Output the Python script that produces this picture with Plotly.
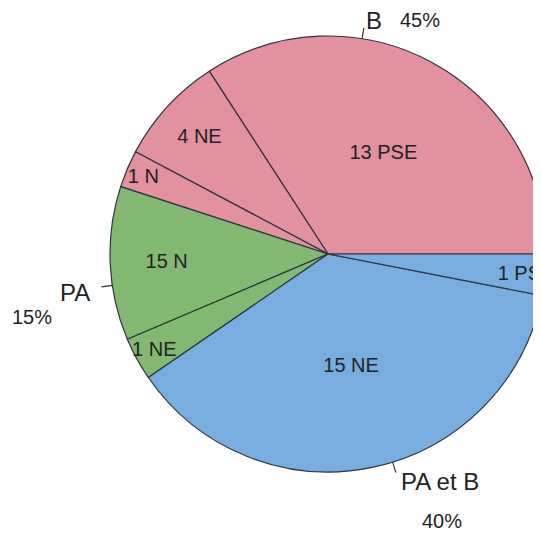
"""
Camembert : répartition des groupes B / PA / PA et B avec leurs sous-catégories.
"""
import math
import plotly.graph_objects as go

# Données
etiquettes = ["13 PSE", "4 NE", "1 N", "15 N", "1 NE", "15 NE", "1 PSE"]
parts = [123, 29, 10, 41, 11.5, 134.5, 11]  # taille estimée de chaque secteur (degrés)
groupes = ["B", "B", "B", "PA", "PA", "PA et B", "PA et B"]
noms_groupes = ["B", "PA", "PA et B"]
pourcentages = ["45%", "15%", "40%"]

couleurs_groupes = {"B": "#E3909F", "PA": "#82B872", "PA et B": "#7AADDF"}
couleur_trait = "#2B3440"
couleur_texte = "#222222"
police = "Liberation Sans, Arial, sans-serif"

W, H = 541, 533
cx, cy, r = 320.0, 246.0, 218.0  # centre et rayon du camembert (pixels de la figure)

total = sum(parts)

fig = go.Figure(data=[
    go.Pie(
        values=parts,
        text=etiquettes,
        textinfo="text",
        textposition="inside",
        insidetextorientation="horizontal",
        textfont=dict(size=20, color=couleur_texte, family=police),
        marker=dict(colors=[couleurs_groupes[g] for g in groupes],
                    line=dict(color=couleur_trait, width=1.2)),
        sort=False,
        direction="counterclockwise",
        # le premier secteur doit commencer à 3 h
        rotation=90 - parts[0] / total * 360,
        hoverinfo="text+percent",
        domain=dict(x=[(cx - r) / W, (cx + r) / W],
                    y=[(H - cy - r) / H, (H - cy + r) / H]),
        showlegend=False,
    )
])

# angle médian de chaque groupe (départ à 3 h, sens antihoraire)
angles_milieu = {}
debut = 0.0
for nom in noms_groupes:
    taille = sum(p for p, g in zip(parts, groupes) if g == nom)
    angles_milieu[nom] = (debut + taille / 2) / total * 360
    debut += taille

# décalages (pixels) des étiquettes extérieures par rapport au point d'ancrage
placement = {
    "B": dict(dx=9, dy=1, pdx=55, pdy=1),
    "PA": dict(dx=-20, dy=-5, pdx=-63, pdy=-29),
    "PA et B": dict(dx=42, dy=-3, pdx=44, pdy=-42),
}


def vers_papier(x, y):
    return x / W, 1 - y / H


for nom, pct in zip(noms_groupes, pourcentages):
    a = math.radians(angles_milieu[nom])
    x0, y0 = vers_papier(cx + r * math.cos(a), cy - r * math.sin(a))
    x1, y1 = vers_papier(cx + 1.05 * r * math.cos(a), cy - 1.05 * r * math.sin(a))
    fig.add_shape(type="line", xref="paper", yref="paper", x0=x0, y0=y0, x1=x1, y1=y1,
                  line=dict(color=couleur_trait, width=1.2))
    xa, ya = vers_papier(cx + 1.08 * r * math.cos(a), cy - 1.08 * r * math.sin(a))
    p = placement[nom]
    fig.add_annotation(x=xa, y=ya, xref="paper", yref="paper", text=nom, showarrow=False,
                       xanchor="center", yanchor="middle", xshift=p["dx"], yshift=p["dy"],
                       font=dict(size=24, color=couleur_texte, family=police))
    fig.add_annotation(x=xa, y=ya, xref="paper", yref="paper", text=pct, showarrow=False,
                       xanchor="center", yanchor="middle", xshift=p["pdx"], yshift=p["pdy"],
                       font=dict(size=20, color=couleur_texte, family=police))

fig.update_layout(
    width=W,
    height=H,
    margin=dict(l=0, r=0, t=0, b=0),
    paper_bgcolor="white",
    plot_bgcolor="white",
    uniformtext=dict(minsize=20, mode="show"),
)

fig.write_html("out.html")
